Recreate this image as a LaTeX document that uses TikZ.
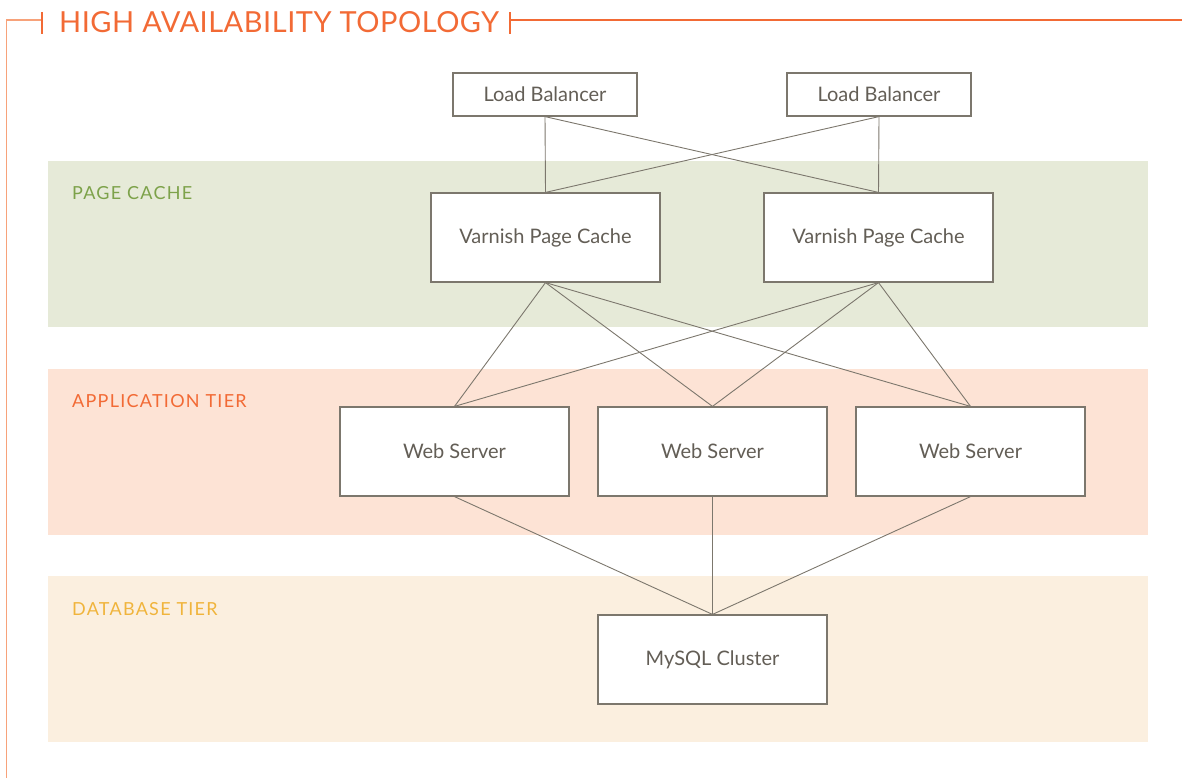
\documentclass[tikz,border=0pt]{standalone}
\usepackage{fontspec}
\setmainfont{Lato}
\newfontfamily\titlefont[LetterSpace=1.8]{Lato}
\newfontfamily\tierfont[LetterSpace=7]{Lato}
\usetikzlibrary{positioning}

\definecolor{haorange}{HTML}{F26A35}
\definecolor{halight}{HTML}{F7A27A}
\definecolor{cachegreen}{HTML}{7DA24A}
\definecolor{cacheband}{HTML}{E6EAD8}
\definecolor{appband}{HTML}{FDE3D5}
\definecolor{dbband}{HTML}{FBEFDF}
\definecolor{dbyellow}{HTML}{F0B43C}
\definecolor{boxgray}{HTML}{7C776D}
\definecolor{textgray}{HTML}{635E56}

\begin{document}
\begin{tikzpicture}[x=1pt,y=-1pt,
    server/.style={draw=boxgray,line width=1.2pt,fill=white,text=textgray,
      minimum width=229pt,minimum height=89pt,inner sep=0pt,
      font=\fontsize{20}{24}\selectfont},
    balancer/.style={server,minimum width=184pt,minimum height=43pt},
    link/.style={draw=boxgray,line width=0.9pt},
    tier/.style={anchor=base west,inner sep=0pt,font=\tierfont\fontsize{18}{22}\selectfont}]
  \useasboundingbox (0,0) rectangle (1182,778);

  % bands
  \fill[cacheband] (48,161) rectangle (1148,327);
  \fill[appband] (48,369) rectangle (1148,535);
  \fill[dbband] (48,576) rectangle (1148,742);

  \node[tier,text=cachegreen] (cachelbl) at (72,199) {PAGE CACHE};
  \node[tier,text=haorange] (applbl) at (72,407) {APPLICATION TIER};
  \node[tier,text=dbyellow] (dblbl) at (72,615) {DATABASE TIER};

  % title rule
  \node[anchor=base west,inner sep=0pt,text=haorange,
    font=\titlefont\fontsize{29}{32}\selectfont] (title) at (59,33) {HIGH AVAILABILITY TOPOLOGY};
  \coordinate (tickl) at (42,20);
  \coordinate (tickr) at (510,20);
  \draw[halight,line width=1.6pt] (6.5,778) |- (tickl);
  \draw[haorange,line width=1.4pt] (tickl) ++(0,-8) -- ++(0,22);
  \draw[haorange,line width=1.4pt] (tickr) ++(0,-8) -- ++(0,22);
  \draw[haorange,line width=1.6pt] (tickr) -- (1182,20);

  % nodes
  \node[balancer] (lb1) at (545,94.5) {Load Balancer};
  \node[balancer] (lb2) at (879,94.5) {Load Balancer};
  \node[server] (vpc1) at (545.5,237.5) {Varnish Page Cache};
  \node[server] (vpc2) at (878.5,237.5) {Varnish Page Cache};
  \node[server] (web1) at (454.5,451.5) {Web Server};
  \node[server] (web2) at (712.5,451.5) {Web Server};
  \node[server] (web3) at (970.5,451.5) {Web Server};
  \node[server] (mysql) at (712.5,659.5) {MySQL Cluster};

  % links
  \foreach \a in {lb1,lb2}
    \foreach \b in {vpc1,vpc2}
      \draw[link] (\a.south) -- (\b.north);
  \foreach \a in {vpc1,vpc2}
    \foreach \b in {web1,web2,web3}
      \draw[link] (\a.south) -- (\b.north);
  \foreach \a in {web1,web2,web3}
    \draw[link] (\a.south) -- (mysql.north);
\end{tikzpicture}
\end{document}
